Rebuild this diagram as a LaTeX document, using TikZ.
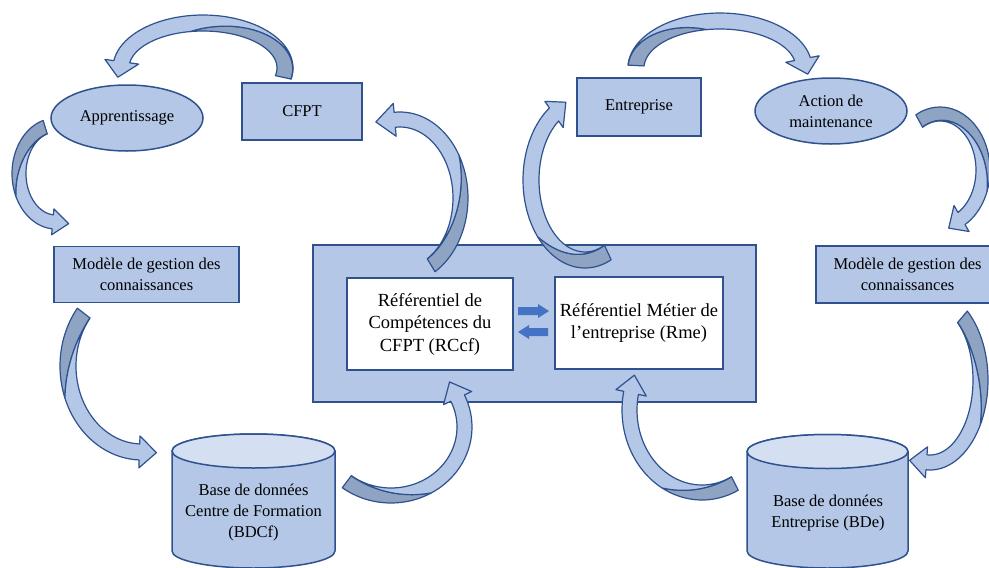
\documentclass[tikz,border=0pt]{standalone}
\usepackage{fontspec}
\setmainfont{Liberation Serif}
\usetikzlibrary{shapes.geometric}
\definecolor{boxfill}{HTML}{B4C7E7}
\definecolor{bord}{HTML}{2F528F}
\definecolor{cyltop}{HTML}{D4DFF2}
\definecolor{darkarr}{HTML}{8FA3C2}
\definecolor{smallarr}{HTML}{4472C4}

\newcommand{\caHW}{8}
\newcommand{\caHL}{17}

% curved ribbon arrow: cx, cy, rx, ry, a0 (tail), a1 (head), am (end of dark part), width, dark side (1 inner / 0 outer)
\newcommand{\carr}[9]{%
\pgfmathsetmacro\caCX{#1}%
\pgfmathsetmacro\caCY{#2}%
\pgfmathsetmacro\caRX{#3}%
\pgfmathsetmacro\caRY{#4}%
\pgfmathsetmacro\caTA{#5}%
\pgfmathsetmacro\caTB{#6}%
\pgfmathsetmacro\caTM{#7}%
\pgfmathsetmacro\caW{#8}%
\pgfmathsetmacro\caOA{(1-(#9))*(#8)}%
\pgfmathsetmacro\caOB{(#9)*(#8)}%
\pgfmathsetmacro\caPAx{\caCX+(\caRX-\caOB)*cos(\caTB)}%
\pgfmathsetmacro\caPAy{\caCY+(\caRY-\caOB)*sin(\caTB)}%
\pgfmathsetmacro\caPBx{\caCX+(\caRX-\caOA)*cos(\caTB)}%
\pgfmathsetmacro\caPBy{\caCY+(\caRY-\caOA)*sin(\caTB)}%
\pgfmathsetmacro\caD{sign((\caTB)-(\caTA))}%
\pgfmathsetmacro\caTX{(-1)*(\caD)*(\caRX-\caW/2)*sin(\caTB)}%
\pgfmathsetmacro\caTY{(\caD)*(\caRY-\caW/2)*cos(\caTB)}%
\pgfmathsetmacro\caTL{veclen(\caTX,\caTY)}%
\pgfmathsetmacro\caQx{(\caPAx+\caPBx)/2+\caHL*(\caTX)/\caTL}%
\pgfmathsetmacro\caQy{(\caPAy+\caPBy)/2+\caHL*(\caTY)/\caTL}%
\pgfmathsetmacro\caBAx{\caPAx+(\caPAx-\caPBx)*\caHW/\caW}%
\pgfmathsetmacro\caBAy{\caPAy+(\caPAy-\caPBy)*\caHW/\caW}%
\pgfmathsetmacro\caBBx{\caPBx+(\caPBx-\caPAx)*\caHW/\caW}%
\pgfmathsetmacro\caBBy{\caPBy+(\caPBy-\caPAy)*\caHW/\caW}%
\filldraw[arrdark]
  plot[domain=0:1,samples=30,variable=\pp]
   ({\caCX+(\caRX-\caOA-(\caOB-\caOA)*\pp*\pp)*cos(\caTA+((\caTM)-(\caTA))*\pp)},
    {\caCY+(\caRY-\caOA-(\caOB-\caOA)*\pp*\pp)*sin(\caTA+((\caTM)-(\caTA))*\pp)})
  -- plot[domain=0:1,samples=30,variable=\pp]
   ({\caCX+(\caRX-\caOB)*cos(\caTM+((\caTA)-(\caTM))*\pp)},
    {\caCY+(\caRY-\caOB)*sin(\caTM+((\caTA)-(\caTM))*\pp)})
  -- cycle;
\filldraw[arrlight]
  plot[domain=0:1,samples=30,variable=\pp]
   ({\caCX+(\caRX-\caOA-(\caOB-\caOA)*\pp*\pp)*cos(\caTA+((\caTM)-(\caTA))*\pp)},
    {\caCY+(\caRY-\caOA-(\caOB-\caOA)*\pp*\pp)*sin(\caTA+((\caTM)-(\caTA))*\pp)})
  -- plot[domain=0:1,samples=30,variable=\pp]
   ({\caCX+(\caRX-\caOB)*cos(\caTM+((\caTB)-(\caTM))*\pp)},
    {\caCY+(\caRY-\caOB)*sin(\caTM+((\caTB)-(\caTM))*\pp)})
  -- (\caBAx,\caBAy) -- (\caQx,\caQy) -- (\caBBx,\caBBy)
  -- plot[domain=0:1,samples=50,variable=\pp]
   ({\caCX+(\caRX-\caOA)*cos(\caTB+((\caTA)-(\caTB))*\pp)},
    {\caCY+(\caRY-\caOA)*sin(\caTB+((\caTA)-(\caTB))*\pp)})
  -- cycle;
}

\begin{document}
\begin{tikzpicture}[x=1pt,y=-1pt,
  txt/.style={font=\fontsize{16.5}{21}\selectfont, align=center, text=black},
  bigtxt/.style={font=\fontsize{18.5}{22.5}\selectfont, align=center, text=black},
  box/.style={rectangle, draw=bord, fill=boxfill, line width=1.5pt, inner sep=0pt, txt},
  wbox/.style={rectangle, draw=bord, fill=white, line width=2pt, inner sep=0pt, bigtxt},
  ell/.style={ellipse, draw=bord, fill=boxfill, line width=1.5pt, inner sep=0pt, txt},
  cyl/.style={draw=bord, fill=boxfill, line width=1.5pt},
  arrdark/.style={fill=darkarr, draw=bord, line width=1.2pt, line join=round},
  arrlight/.style={fill=boxfill, draw=bord, line width=1.2pt, line join=round},
  smallarrow/.style={fill=smallarr}]
\useasboundingbox (0,0) rectangle (989,568);
\clip (0,0) rectangle (989,568);

% boxes
\node[box, minimum width=120, minimum height=57] (cfpt) at (302,111.5) {CFPT};
\node[ell, minimum width=152, minimum height=66] (appr) at (127,118) {Apprentissage};
\node[box, minimum width=185, minimum height=56] (mgl) at (146.5,274.5) {Modèle de gestion des\\connaissances};
\node[box, minimum width=124, minimum height=58] (entr) at (639,107) {Entreprise};
\node[ell, minimum width=152, minimum height=66] (action) at (831,111) {Action de\\maintenance};
\node[box, minimum width=183, minimum height=57] (mgr) at (907.5,274.5) {Modèle de gestion des\\connaissances};
\node[box, line width=2pt, minimum width=443, minimum height=157] (centre) at (534.5,323.5) {};
\node[wbox, minimum width=166, minimum height=92] (rccf) at (430,324) {Référentiel de\\Compétences du\\CFPT (RCcf)};
\node[wbox, minimum width=168, minimum height=92] (rme) at (639,323) {Référentiel Métier de\\l’entreprise (Rme)};

% small arrows between the two referentials
\fill[smallarrow] (518,307) -- (538,307) -- (538,304) -- (549,311) -- (538,318) -- (538,315) -- (518,315) -- cycle;
\fill[smallarrow] (548,328) -- (529,328) -- (529,325) -- (518,332) -- (529,339) -- (529,336) -- (548,336) -- cycle;

% cylinders
\draw[cyl] (172,451) -- (172,551) arc[start angle=180, end angle=0, x radius=81.5, y radius=17] -- (335,451) arc[start angle=0, end angle=-180, x radius=81.5, y radius=17] -- cycle;
\draw[cyl, fill=cyltop] (253.5,451) ellipse [x radius=81.5, y radius=17];
\node[txt] (bdcf) at (253.5,513) {Base de données\\Centre de Formation\\(BDCf)};

\draw[cyl] (747,451.5) -- (747,551) arc[start angle=180, end angle=0, x radius=80.5, y radius=17] -- (908,451.5) arc[start angle=0, end angle=-180, x radius=80.5, y radius=17] -- cycle;
\draw[cyl, fill=cyltop] (827.5,451.5) ellipse [x radius=80.5, y radius=17];
\node[txt] (bde) at (828,513) {Base de données\\Entreprise (BDe)};

% curved arrows
\renewcommand{\caHW}{9}\renewcommand{\caHL}{16}
\carr{203}{68}{90}{53}{12}{-172}{-100}{16}{1}
\carr{720}{68}{92}{55}{-177}{-11}{-100}{16}{1}
\renewcommand{\caHW}{6}\renewcommand{\caHL}{16}
\carr{56}{173.5}{44}{55.5}{-107}{-265}{-205}{14}{0}
\renewcommand{\caHW}{8}\renewcommand{\caHL}{16}
\carr{940}{170}{50}{63}{-119}{60}{20}{14}{0}
\renewcommand{\caHW}{8}\renewcommand{\caHL}{17}
\carr{142}{366}{82}{94}{-142}{-268}{-200}{16}{0}
\carr{930}{380}{58}{90}{-50}{94}{30}{15}{0}
\renewcommand{\caHW}{9}\renewcommand{\caHL}{19}
\carr{400}{198}{68}{86}{59}{-95}{-30}{15}{0}
\renewcommand{\caHW}{8}\renewcommand{\caHL}{17}
\carr{585}{180}{62}{88}{65}{235}{140}{16}{0}
\renewcommand{\caHW}{8}\renewcommand{\caHL}{18}
\carr{391}{427}{81}{76}{127}{-25}{60}{15}{0}
\carr{702}{410}{80}{90}{63}{192}{120}{15}{0}
\end{tikzpicture}
\end{document}
